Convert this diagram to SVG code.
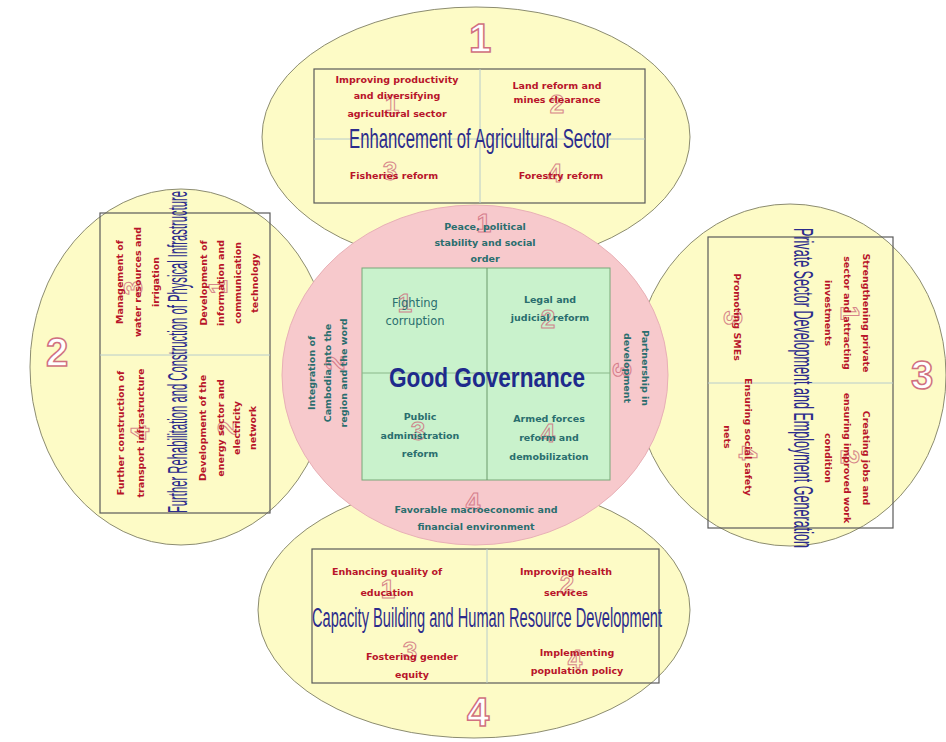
<svg xmlns="http://www.w3.org/2000/svg" width="946" height="742" viewBox="0 0 946 742">
<style>
.ell{fill:#fdfbc6;stroke:#8c8c70;stroke-width:1}
.box{fill:none;stroke:#5a5a5a;stroke-width:1.2}
.mid{stroke:#b8cccc;stroke-width:1}
.red{font-family:"DejaVu Sans",sans-serif;font-weight:bold;font-size:9.5px;fill:#b8142a;text-anchor:middle}
.teal{font-family:"DejaVu Sans",sans-serif;font-weight:bold;font-size:9.5px;fill:#2a6e6e;text-anchor:middle}
.title{font-family:"Liberation Sans",sans-serif;font-size:27px;fill:#2c2c8c;text-anchor:middle}
.bign{font-family:"Liberation Sans",sans-serif;font-weight:bold;font-size:40px;fill:#ffffff;stroke:#d07080;stroke-width:1.5;text-anchor:middle}
.smn{font-family:"Liberation Sans",sans-serif;font-weight:bold;font-size:26px;fill:none;stroke:#d07080;stroke-width:1;text-anchor:middle;opacity:0.85}
</style>
<rect width="946" height="742" fill="#ffffff"/>
<g id="petal-top">
<ellipse class="ell" cx="476" cy="137" rx="214" ry="130"/>
</g>
<g id="petal-left">
<ellipse class="ell" cx="181" cy="367" rx="151" ry="178"/>
</g>
<g id="petal-right">
<ellipse class="ell" cx="790" cy="375" rx="156" ry="171"/>
</g>
<g id="petal-bottom">
<ellipse class="ell" cx="474" cy="610" rx="216" ry="128"/>
</g>
<g id="center-ring">
<ellipse cx="475" cy="375" rx="193" ry="170" fill="#f7c9cc" stroke="#e8b0b6" stroke-width="1"/>
<text class="smn" x="484" y="232">1</text>
<text class="smn" x="335" y="372" transform="rotate(-90 335 363)">2</text>
<text class="smn" x="622" y="379" transform="rotate(90 622 370)">3</text>
<text class="smn" x="473" y="511">4</text>
<text class="teal" x="485" y="230">Peace, political</text>
<text class="teal" x="485" y="246">stability and social</text>
<text class="teal" x="485" y="262">order</text>
<text class="teal" x="476" y="513">Favorable macroeconomic and</text>
<text class="teal" x="476" y="530">financial environment</text>
<g transform="translate(328 373) rotate(-90)">
<text class="teal" x="0" y="-13">Integration of</text>
<text class="teal" x="0" y="3">Cambodia into the</text>
<text class="teal" x="0" y="19">region and the word</text>
</g>
<g transform="translate(636 368) rotate(90)">
<text class="teal" x="0" y="-6">Partnership in</text>
<text class="teal" x="0" y="12">development</text>
</g>
</g>
<g id="good-governance">
<rect x="362" y="268" width="248" height="212" fill="#c9f2cc" stroke="#78a878" stroke-width="1"/>
<line class="mid" x1="487" y1="268" x2="487" y2="480" style="stroke:#6a9a6a"/>
<line class="mid" x1="362" y1="373" x2="610" y2="373" style="stroke:#8ab88a"/>
<text class="smn" x="405" y="312">1</text>
<text class="smn" x="548" y="328">2</text>
<text class="smn" x="418" y="440">3</text>
<text class="smn" x="548" y="442">4</text>
<text class="teal" x="415" y="307" style="font-size:11.5px;font-weight:normal">Fighting</text>
<text class="teal" x="415" y="325" style="font-size:11.5px;font-weight:normal">corruption</text>
<text class="teal" x="550" y="303">Legal and</text>
<text class="teal" x="550" y="321">judicial reform</text>
<text class="teal" x="420" y="420">Public</text>
<text class="teal" x="420" y="439">administration</text>
<text class="teal" x="420" y="457">reform</text>
<text class="teal" x="549" y="422">Armed forces</text>
<text class="teal" x="549" y="441">reform and</text>
<text class="teal" x="549" y="460">demobilization</text>
<text x="487" y="387" font-family="Liberation Sans, sans-serif" font-weight="bold" font-size="28" fill="#1e2a8c" text-anchor="middle" textLength="196" lengthAdjust="spacingAndGlyphs">Good Governance</text>
</g>
<g id="agriculture">
<rect class="box" x="314" y="69" width="331" height="134"/>
<line class="mid" x1="480" y1="69" x2="480" y2="203"/>
<line class="mid" x1="314" y1="139" x2="645" y2="139"/>
<text class="smn" x="392" y="113">1</text>
<text class="smn" x="557" y="113">2</text>
<text class="smn" x="390" y="180">3</text>
<text class="smn" x="555" y="182">4</text>
<text class="red" x="397" y="83">Improving productivity</text>
<text class="red" x="397" y="99">and diversifying</text>
<text class="red" x="397" y="117">agricultural sector</text>
<text class="red" x="557" y="89">Land reform and</text>
<text class="red" x="557" y="103">mines clearance</text>
<text class="red" x="394" y="179">Fisheries reform</text>
<text class="red" x="561" y="179">Forestry reform</text>
<text class="title" x="480" y="148" textLength="262" lengthAdjust="spacingAndGlyphs">Enhancement of Agricultural Sector</text>
<text class="bign" x="480" y="52">1</text>
</g>
<g id="infrastructure">
<rect class="box" x="100" y="213" width="170" height="300"/>
<line class="mid" x1="100" y1="355" x2="270" y2="355"/>
<text class="smn" x="133" y="297" transform="rotate(-90 133 288)">3</text>
<text class="smn" x="218" y="296" transform="rotate(-90 218 287)">1</text>
<text class="smn" x="140" y="442" transform="rotate(-90 140 433)">4</text>
<text class="smn" x="227" y="437" transform="rotate(-90 227 428)">2</text>
<g transform="translate(138 282) rotate(-90)">
<text class="red" x="0" y="-15">Management of</text>
<text class="red" x="0" y="3">water resources and</text>
<text class="red" x="0" y="21">irrigation</text>
</g>
<g transform="translate(229 283) rotate(-90)">
<text class="red" x="0" y="-22">Development of</text>
<text class="red" x="0" y="-5">information and</text>
<text class="red" x="0" y="12">communication</text>
<text class="red" x="0" y="29">technology</text>
</g>
<g transform="translate(130 433) rotate(-90)">
<text class="red" x="0" y="-6">Further construction of</text>
<text class="red" x="0" y="14">transport infrastructure</text>
</g>
<g transform="translate(228 428) rotate(-90)">
<text class="red" x="0" y="-22">Development of the</text>
<text class="red" x="0" y="-4">energy sector and</text>
<text class="red" x="0" y="12">electricity</text>
<text class="red" x="0" y="28">network</text>
</g>
<text class="title" x="0" y="0" transform="translate(187 352) rotate(-90)" textLength="322" lengthAdjust="spacingAndGlyphs">Further Rehabilitation and Construction of Physical Infrastructure</text>
<text class="bign" x="57" y="366">2</text>
</g>
<g id="private-sector">
<rect class="box" x="708" y="237" width="185" height="291"/>
<line class="mid" x1="708" y1="383" x2="893" y2="383"/>
<text class="smn" x="850" y="322" transform="rotate(90 850 313)">1</text>
<text class="smn" x="733" y="327" transform="rotate(90 733 318)">3</text>
<text class="smn" x="850" y="466" transform="rotate(90 850 457)">2</text>
<text class="smn" x="748" y="462" transform="rotate(90 748 453)">4</text>
<g transform="translate(847 313) rotate(90)">
<text class="red" x="0" y="-16">Strengthening private</text>
<text class="red" x="0" y="3">sector and attracting</text>
<text class="red" x="0" y="22">investments</text>
</g>
<g transform="translate(737 317) rotate(90)">
<text class="red" x="0" y="3">Promoting SMEs</text>
</g>
<g transform="translate(847 458) rotate(90)">
<text class="red" x="0" y="-16">Creating jobs and</text>
<text class="red" x="0" y="3">ensuring improved work</text>
<text class="red" x="0" y="22">condition</text>
</g>
<g transform="translate(738 437) rotate(90)">
<text class="red" x="0" y="-7">Ensuring social safety</text>
<text class="red" x="0" y="14">nets</text>
</g>
<text class="title" x="0" y="0" transform="translate(794 388) rotate(90)" textLength="320" lengthAdjust="spacingAndGlyphs">Private Sector Development and Employment Generation</text>
<text class="bign" x="922" y="389">3</text>
</g>
<g id="capacity">
<rect class="box" x="312" y="549" width="347" height="134"/>
<line class="mid" x1="487" y1="549" x2="487" y2="683"/>
<text class="smn" x="388" y="598">1</text>
<text class="smn" x="567" y="593">2</text>
<text class="smn" x="410" y="660">3</text>
<text class="smn" x="575" y="668">4</text>
<text class="red" x="387" y="575">Enhancing quality of</text>
<text class="red" x="387" y="596">education</text>
<text class="red" x="566" y="575">Improving health</text>
<text class="red" x="566" y="596">services</text>
<text class="red" x="412" y="660">Fostering gender</text>
<text class="red" x="412" y="678">equity</text>
<text class="red" x="577" y="656">Implementing</text>
<text class="red" x="577" y="674">population policy</text>
<text class="title" x="487" y="627" textLength="350" lengthAdjust="spacingAndGlyphs">Capacity Building and Human Resource Development</text>
<text class="bign" x="478" y="726">4</text>
</g>
<g id="connectors"></g>
</svg>
